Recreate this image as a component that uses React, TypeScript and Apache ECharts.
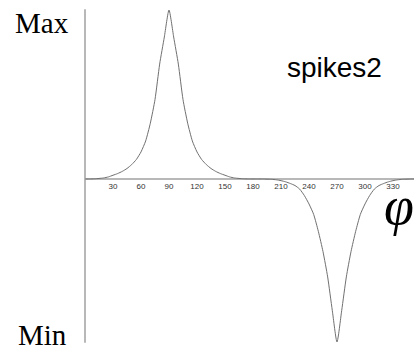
import React, { useEffect, useRef } from "react";
import * as echarts from "echarts";

const angles: number[] = [
  0, 5, 10, 15, 20, 25, 30, 35, 40, 45, 50, 55, 60, 65, 70, 75, 80, 85,
  90, 95, 100, 105, 110, 115, 120, 125, 130, 135, 140, 145, 150, 155, 160, 165, 170, 175,
  180, 185, 190, 195, 200, 205, 210, 215, 220, 225, 230, 235, 240, 245, 250, 255, 260, 265,
  270, 275, 280, 285, 290, 295, 300, 305, 310, 315, 320, 325, 330, 335, 340, 345, 350, 355, 360,
];

const values: number[] = [
  0, 0, 0.001, 0.003, 0.006, 0.012, 0.022, 0.032, 0.045, 0.062, 0.085, 0.115, 0.16, 0.225, 0.33, 0.47, 0.68, 0.84,
  1.0, 0.84, 0.68, 0.47, 0.33, 0.225, 0.16, 0.115, 0.085, 0.062, 0.045, 0.032, 0.022, 0.012, 0.006, 0.003, 0.001, 0,
  0, 0, 0, -0.001, -0.002, -0.005, -0.01, -0.017, -0.027, -0.039, -0.06, -0.098, -0.148, -0.21, -0.31, -0.43, -0.58, -0.78,
  -0.965, -0.78, -0.58, -0.43, -0.31, -0.21, -0.148, -0.098, -0.06, -0.039, -0.027, -0.017, -0.01, -0.005, -0.002, -0.001, 0, 0, 0,
];

const xTickStep = 30;
const xMin = 0;
const xMax = 360;
const yMin = -0.965;
const yMax = 1;

const topLabel = "Max";
const bottomLabel = "Min";
const titleText = "spikes2";
const axisSymbol = "φ";

export default function App() {
  const ref = useRef<HTMLDivElement>(null);

  useEffect(() => {
    if (!ref.current) return;
    const chart = echarts.init(ref.current, null, { renderer: "svg" });
    chart.setOption({
      animation: false,
      backgroundColor: "#ffffff",
      grid: { left: 85, top: 10, width: 336, height: 332, containLabel: false, outerBoundsMode: "none" },
      xAxis: {
        type: "value",
        min: xMin,
        max: xMax,
        interval: xTickStep,
        position: "bottom",
        offset: -163,
        splitLine: { show: false },
        axisTick: { show: false },
        axisLine: { show: true, onZero: false, lineStyle: { color: "#b8b8b8", width: 2 } },
        axisLabel: {
          show: true,
          showMinLabel: false,
          margin: 3,
          fontSize: 8,
          color: "#333333",
          fontFamily: "Liberation Sans, Arial, sans-serif",
        },
      },
      yAxis: {
        type: "value",
        min: yMin,
        max: yMax,
        splitLine: { show: false },
        axisTick: { show: false },
        axisLabel: { show: false },
        axisLine: { show: true, onZero: false, lineStyle: { color: "#b8b8b8", width: 2 } },
      },
      series: [
        {
          type: "line",
          data: angles.map((a, i) => [a, values[i]]),
          showSymbol: false,
          symbol: "none",
          clip: false,
          smooth: 0.2,
          lineStyle: { color: "#707070", width: 1 },
        },
      ],
      graphic: [
        {
          type: "text",
          left: 15,
          top: 8,
          style: { text: topLabel, fontSize: 29, fontFamily: "Liberation Serif, Times New Roman, serif", fill: "#000" },
        },
        {
          type: "text",
          left: 18,
          top: 320,
          style: { text: bottomLabel, fontSize: 29, fontFamily: "Liberation Serif, Times New Roman, serif", fill: "#000" },
        },
        {
          type: "text",
          left: 287,
          top: 53,
          style: { text: titleText, fontSize: 28, fontFamily: "Liberation Sans, Arial, sans-serif", fill: "#000" },
        },
        {
          type: "text",
          left: 384,
          top: 179,
          style: {
            text: axisSymbol,
            fontSize: 54,
            fontStyle: "italic",
            fontFamily: "Liberation Serif, Times New Roman, serif",
            fill: "#000",
          },
        },
      ],
    });
    return () => chart.dispose();
  }, []);

  return (
    <div
      ref={ref}
      style={{ position: "fixed", left: 0, top: 0, width: 414, height: 350, overflow: "hidden" }}
    />
  );
}
